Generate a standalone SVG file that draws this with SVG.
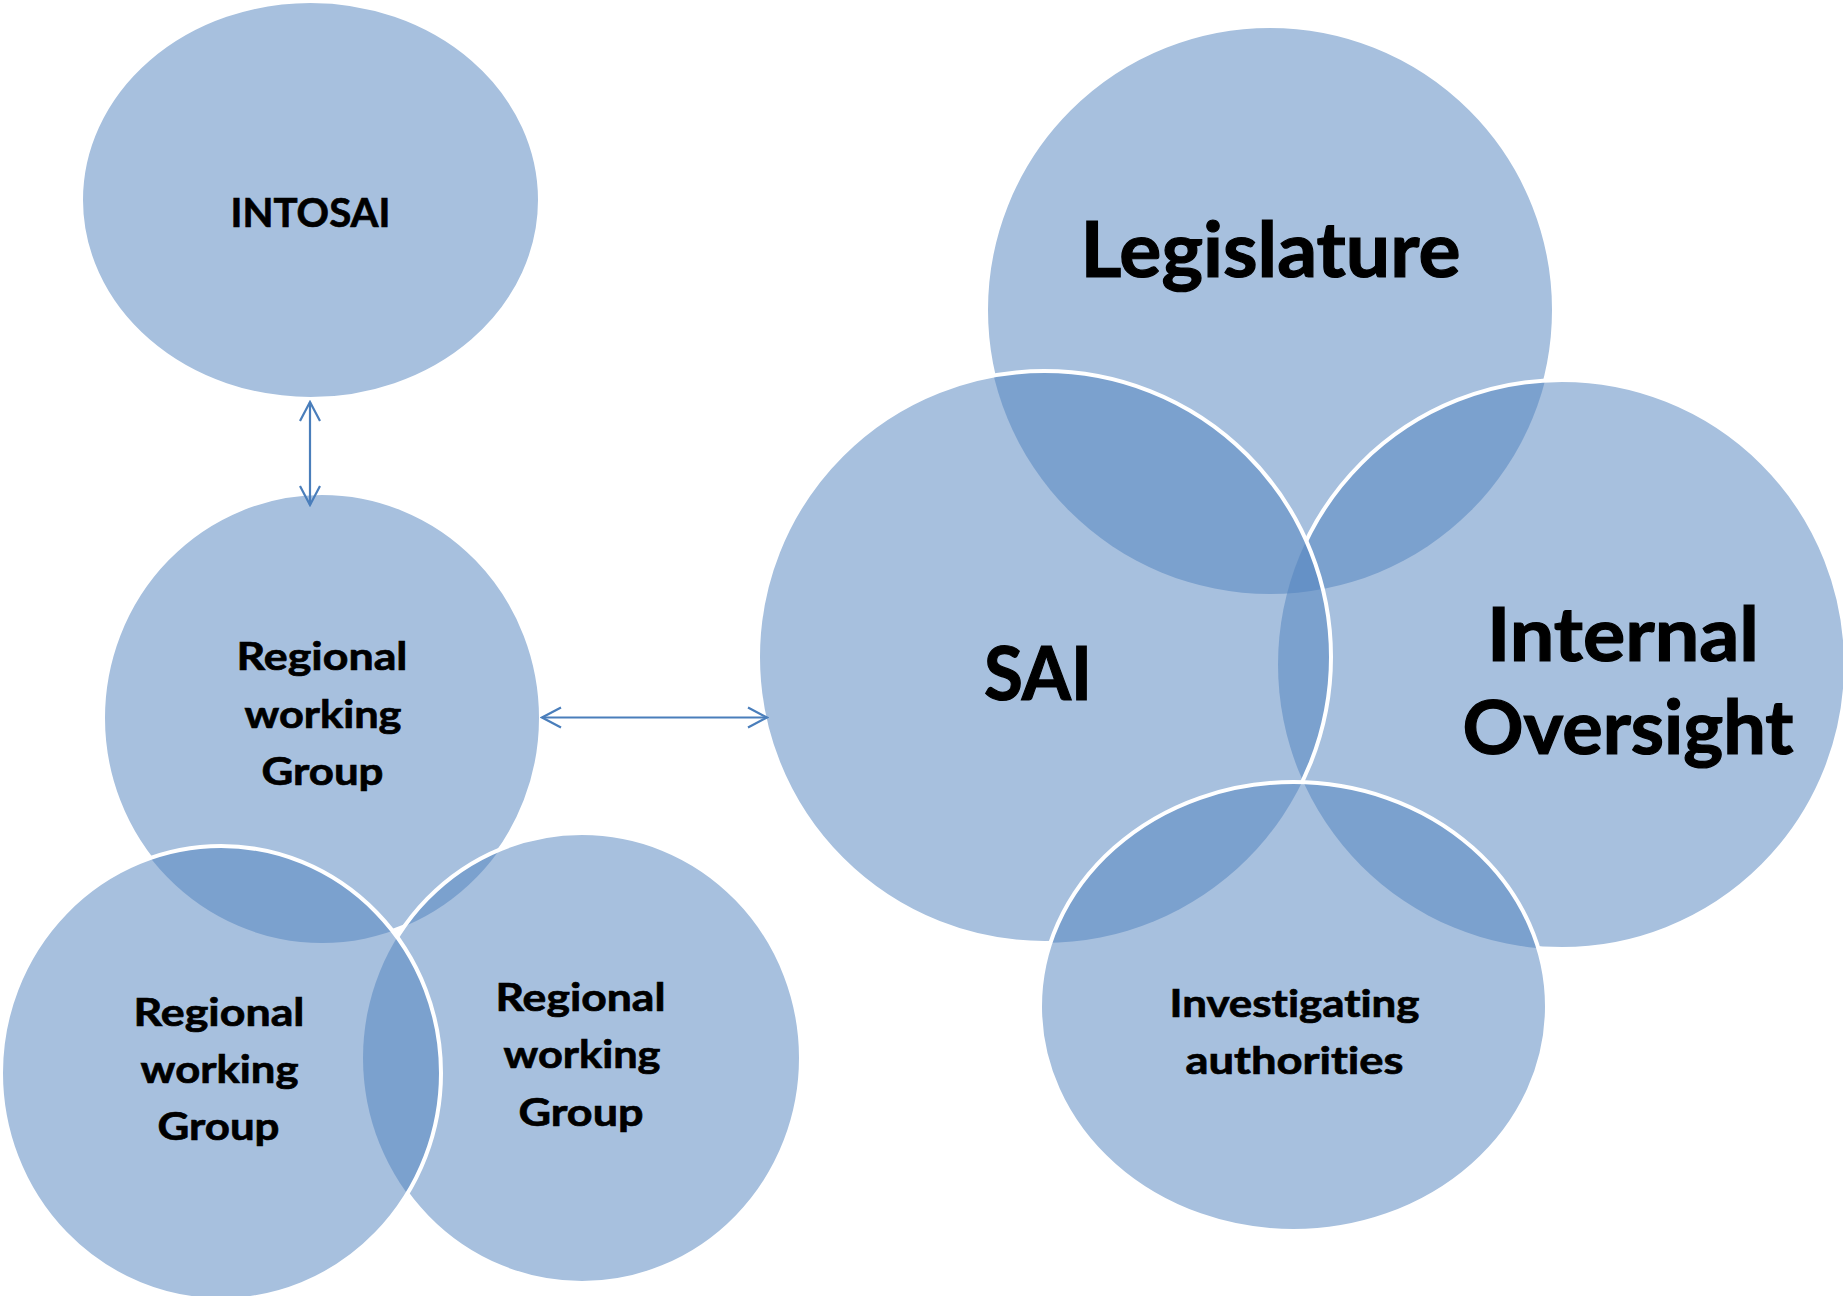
<svg xmlns="http://www.w3.org/2000/svg" width="1843" height="1296" viewBox="0 0 1843 1296">
<style>
.fill{fill:#4F81BD;fill-opacity:0.5;stroke:none}
.edge{fill:none;stroke:#FFFFFF;stroke-width:4}
.lbl{font-family:Lato,"Liberation Sans",sans-serif;font-weight:bold;fill:#000000;text-anchor:middle;font-variant-ligatures:none;font-feature-settings:"liga" 0;stroke:#000000;stroke-width:0.7}
.big{stroke-width:1.2}
.conn{stroke:#4A7EBB;stroke-width:2.2;fill:none}
</style>
<defs>
<marker id="arr" markerUnits="userSpaceOnUse" viewBox="-22 -12 24 24" refX="0" refY="0" markerWidth="24" markerHeight="24" orient="auto-start-reverse">
<path d="M -19 -10 L 0 0 L -19 10" fill="none" stroke="#4A7EBB" stroke-width="2.2"/>
</marker>
<mask id="mT" maskUnits="userSpaceOnUse" x="0" y="0" width="1843" height="1296">
<rect x="0" y="0" width="1843" height="1296" fill="#fff"/>
<ellipse cx="582" cy="1058" rx="219" ry="225" fill="#000"/>
<ellipse cx="221" cy="1073" rx="220" ry="227" fill="#000"/>
</mask>
<mask id="mBR" maskUnits="userSpaceOnUse" x="0" y="0" width="1843" height="1296">
<rect x="0" y="0" width="1843" height="1296" fill="#fff"/>
<ellipse cx="221" cy="1073" rx="220" ry="227" fill="#000"/>
</mask>
<mask id="mLeg" maskUnits="userSpaceOnUse" x="0" y="0" width="1843" height="1296">
<rect x="0" y="0" width="1843" height="1296" fill="#fff"/>
<ellipse cx="1562" cy="664.5" rx="284" ry="284.5" fill="#000"/>
<ellipse cx="1044.5" cy="657" rx="286.5" ry="286" fill="#000"/>
<ellipse cx="1293.5" cy="1006.5" rx="253.5" ry="224.5" fill="#000"/>
</mask>
<mask id="mIO" maskUnits="userSpaceOnUse" x="0" y="0" width="1843" height="1296">
<rect x="0" y="0" width="1843" height="1296" fill="#fff"/>
<ellipse cx="1044.5" cy="657" rx="286.5" ry="286" fill="#000"/>
<ellipse cx="1293.5" cy="1006.5" rx="253.5" ry="224.5" fill="#000"/>
</mask>
<mask id="mSAI" maskUnits="userSpaceOnUse" x="0" y="0" width="1843" height="1296">
<rect x="0" y="0" width="1843" height="1296" fill="#fff"/>
<ellipse cx="1293.5" cy="1006.5" rx="253.5" ry="224.5" fill="#000"/>
</mask>
</defs>
<rect x="0" y="0" width="1843" height="1296" fill="#FFFFFF"/>

<g id="intosai">
<ellipse class="fill" cx="310.5" cy="200" rx="229.5" ry="199"/>
<ellipse class="edge" cx="310.5" cy="200" rx="229.5" ry="199"/>
<text class="lbl" x="310.5" y="227" font-size="40.5" textLength="160" lengthAdjust="spacingAndGlyphs">INTOSAI</text>
</g>

<g id="rwg-top">
<ellipse class="fill" cx="322" cy="718" rx="219" ry="225"/>
<ellipse class="edge" cx="322" cy="718" rx="219" ry="225" mask="url(#mT)"/>
</g>
<g id="rwg-right">
<ellipse class="fill" cx="582" cy="1058" rx="219" ry="225"/>
<ellipse class="edge" cx="582" cy="1058" rx="219" ry="225" mask="url(#mBR)"/>
</g>
<g id="rwg-left">
<ellipse class="fill" cx="221" cy="1073" rx="220" ry="227"/>
<ellipse class="edge" cx="221" cy="1073" rx="220" ry="227"/>
</g>

<g id="legislature">
<ellipse class="fill" cx="1270" cy="310" rx="284" ry="284"/>
<ellipse class="edge" cx="1270" cy="310" rx="284" ry="284" mask="url(#mLeg)"/>
</g>
<g id="internal-oversight">
<ellipse class="fill" cx="1562" cy="664.5" rx="284" ry="284.5"/>
<ellipse class="edge" cx="1562" cy="664.5" rx="284" ry="284.5" mask="url(#mIO)"/>
</g>
<g id="sai">
<ellipse class="fill" cx="1044.5" cy="657" rx="286.5" ry="286"/>
<ellipse class="edge" cx="1044.5" cy="657" rx="286.5" ry="286" mask="url(#mSAI)"/>
</g>
<g id="investigating">
<ellipse class="fill" cx="1293.5" cy="1006.5" rx="253.5" ry="224.5"/>
<ellipse class="edge" cx="1293.5" cy="1006.5" rx="253.5" ry="224.5"/>
</g>

<g id="labels">
<text class="lbl" x="322" y="670" font-size="39" textLength="171" lengthAdjust="spacingAndGlyphs">Regional</text>
<text class="lbl" x="323" y="728" font-size="39" textLength="157" lengthAdjust="spacingAndGlyphs">working</text>
<text class="lbl" x="322.5" y="785" font-size="39" textLength="122" lengthAdjust="spacingAndGlyphs">Group</text>

<text class="lbl" x="219" y="1026" font-size="39" textLength="171" lengthAdjust="spacingAndGlyphs">Regional</text>
<text class="lbl" x="219.5" y="1083" font-size="39" textLength="158" lengthAdjust="spacingAndGlyphs">working</text>
<text class="lbl" x="218.5" y="1140" font-size="39" textLength="122" lengthAdjust="spacingAndGlyphs">Group</text>

<text class="lbl" x="580.5" y="1011" font-size="39" textLength="170" lengthAdjust="spacingAndGlyphs">Regional</text>
<text class="lbl" x="582" y="1068" font-size="39" textLength="157" lengthAdjust="spacingAndGlyphs">working</text>
<text class="lbl" x="581" y="1126" font-size="39" textLength="125" lengthAdjust="spacingAndGlyphs">Group</text>

<text class="lbl big" x="1270.5" y="277" font-size="77" textLength="380" lengthAdjust="spacingAndGlyphs">Legislature</text>
<text class="lbl big" x="1038" y="700" font-size="74" textLength="108" lengthAdjust="spacingAndGlyphs">SAI</text>
<text class="lbl big" x="1623" y="661" font-size="74" textLength="272" lengthAdjust="spacingAndGlyphs">Internal</text>
<text class="lbl big" x="1628" y="754" font-size="74" textLength="331" lengthAdjust="spacingAndGlyphs">Oversight</text>
<text class="lbl" x="1294.5" y="1017" font-size="37.7" textLength="250" lengthAdjust="spacingAndGlyphs">Investigating</text>
<text class="lbl" x="1294.5" y="1074" font-size="37.7" textLength="218" lengthAdjust="spacingAndGlyphs">authorities</text>
</g>

<g id="connectors">
<line class="conn" x1="310" y1="402" x2="310" y2="505" marker-start="url(#arr)" marker-end="url(#arr)"/>
<line class="conn" x1="542" y1="717.5" x2="767" y2="717.5" marker-start="url(#arr)" marker-end="url(#arr)"/>
</g>
</svg>
